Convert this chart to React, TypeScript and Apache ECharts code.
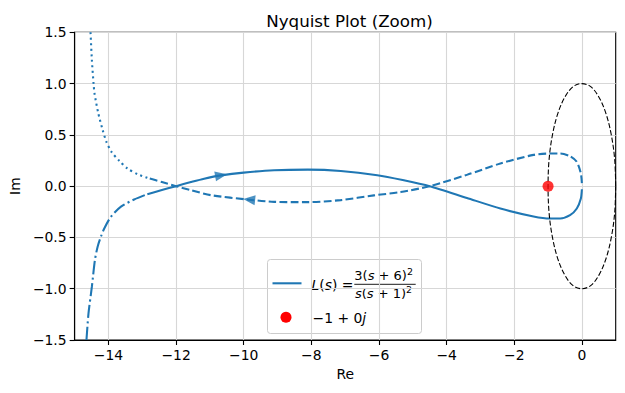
import React, { useEffect, useRef } from 'react';
import * as echarts from 'echarts';

// Tick labels on the real axis
const xTicks = [-14, -12, -10, -8, -6, -4, -2, 0];

// Primary curve, scaled portion (dash-dot)
const primaryScaled: number[][] = [
  [-14.65, -1.5], [-14.59, -1.24], [-14.49, -0.98], [-14.4, -0.72], [-14.32, -0.59],
  [-14.22, -0.49], [-14.12, -0.41], [-13.93, -0.3], [-13.63, -0.2], [-13.24, -0.13],
  [-12.85, -0.078],
];

// Primary curve, positive frequencies (solid)
const primary: number[][] = [
  [-12.85, -0.078], [-12.42, -0.038], [-12.0, 0.0], [-11.56, 0.04], [-11.17, 0.073],
  [-10.67, 0.105], [-10.0, 0.132], [-9.1, 0.155], [-8.1, 0.161], [-7.13, 0.148],
  [-6.05, 0.107], [-5.3, 0.06], [-4.5, 0.0], [-3.4, -0.115], [-2.41, -0.218],
  [-1.43, -0.295], [-0.94, -0.315], [-0.64, -0.315], [-0.35, -0.283], [-0.15, -0.218],
  [-0.03, -0.12], [0.0, -0.03],
];

// Mirror curve, negative frequencies (dashed)
const mirror: number[][] = [
  [0.0, 0.03], [-0.03, 0.124], [-0.15, 0.237], [-0.35, 0.292], [-0.64, 0.318],
  [-0.94, 0.318], [-1.43, 0.305], [-2.41, 0.221], [-3.4, 0.11], [-4.5, 0.0],
  [-5.36, -0.058], [-6.15, -0.09], [-7.13, -0.136], [-8.11, -0.156], [-9.1, -0.153],
  [-9.84, -0.132], [-10.97, -0.088], [-11.56, -0.04], [-12.0, 0.0], [-12.42, 0.04],
  [-12.85, 0.081],
];

// Mirror curve, scaled portion (dotted)
const mirrorScaled: number[][] = [
  [-12.85, 0.081], [-13.14, 0.117], [-13.44, 0.172], [-13.68, 0.247], [-13.91, 0.334],
  [-14.06, 0.432], [-14.17, 0.546], [-14.3, 0.71], [-14.41, 0.9], [-14.44, 1.0],
  [-14.49, 1.23], [-14.53, 1.5],
];

// Unit circle (black dashed)
const unitCircle: number[][] = [
  [1, 0], [0.97, 0.26], [0.87, 0.5], [0.71, 0.71], [0.5, 0.87], [0.26, 0.97],
  [0, 1], [-0.26, 0.97], [-0.5, 0.87], [-0.71, 0.71], [-0.87, 0.5], [-0.97, 0.26],
  [-1, 0], [-0.97, -0.26], [-0.87, -0.5], [-0.71, -0.71], [-0.5, -0.87], [-0.26, -0.97],
  [0, -1], [0.26, -0.97], [0.5, -0.87], [0.71, -0.71], [0.87, -0.5], [0.97, -0.26], [1, 0],
];

// Critical point
const criticalPoint: number[][] = [[-1, 0]];

// Direction arrows on the curves
const arrowPrimary: number[] = [-10.67, 0.105];
const arrowMirror: number[] = [-9.84, -0.132];

const BLUE = '#1f77b4';
const FONT = 'DejaVu Sans';
const minus = (s: string) => s.replace('-', '\u2212');

export default function App() {
  const ref = useRef<HTMLDivElement>(null);

  useEffect(() => {
    if (!ref.current) return;
    const chart = echarts.init(ref.current, undefined, { renderer: 'svg' });

    const lineBase = (data: number[][], type: any, name: string) => ({
      type: 'line',
      name,
      data,
      symbol: 'none',
      showSymbol: false,
      smooth: 0.25,
      lineStyle: { color: BLUE, width: 2.08, type, cap: 'butt' },
      itemStyle: { color: BLUE },
      z: 3,
    });

    const tickText = { color: '#000', fontSize: 13.9, fontFamily: FONT };

    const mathRich = (size: number) => ({
      i: { fontStyle: 'italic', fill: '#000', fontSize: size, fontFamily: FONT, lineHeight: 18 },
      n: { fill: '#000', fontSize: size, fontFamily: FONT, lineHeight: 18 },
      sup: { fill: '#000', fontSize: 9.5, fontFamily: FONT, lineHeight: 18, verticalAlign: 'top' },
    });

    const option: any = {
      animation: false,
      backgroundColor: '#ffffff',
      title: {
        text: 'Nyquist Plot (Zoom)',
        left: 344.5,
        top: 7,
        textAlign: 'center',
        textStyle: { fontSize: 16.7, fontWeight: 'normal', color: '#000', fontFamily: FONT },
      },
      grid: {
        left: 73.3,
        right: 9.3,
        top: 32.3,
        bottom: 53,
        show: true,
        borderColor: '#000',
        borderWidth: 1.1,
        containLabel: false,
      },
      xAxis: {
        type: 'value',
        min: -15,
        max: 1,
        name: 'Re',
        nameLocation: 'middle',
        nameGap: 27,
        nameTextStyle: tickText,
        axisLine: { show: true, onZero: false, lineStyle: { color: '#000', width: 1.1 } },
        axisTick: { show: true, length: 5, customValues: xTicks, lineStyle: { color: '#000', width: 1.1 } },
        axisLabel: {
          customValues: xTicks,
          margin: 8,
          ...tickText,
          formatter: (v: number) => minus(String(v)),
        },
        splitLine: { show: true, lineStyle: { color: '#d7d7d7', width: 1.1 } },
      },
      yAxis: {
        type: 'value',
        min: -1.5,
        max: 1.5,
        interval: 0.5,
        name: 'Im',
        nameLocation: 'middle',
        nameGap: 50,
        nameRotate: 90,
        nameTextStyle: tickText,
        axisLine: { show: true, onZero: false, lineStyle: { color: '#000', width: 1.1 } },
        axisTick: { show: true, length: 5, lineStyle: { color: '#000', width: 1.1 } },
        axisLabel: {
          margin: 8,
          ...tickText,
          formatter: (v: number) => minus(v.toFixed(1)),
        },
        splitLine: { show: true, lineStyle: { color: '#d7d7d7', width: 1.1 } },
      },
      series: [
        lineBase(primaryScaled, [13.3, 3.33, 2.08, 3.33], 'primary scaled'),
        lineBase(primary, 'solid', 'L(s)'),
        lineBase(mirror, [7.7, 3.33], 'mirror'),
        lineBase(mirrorScaled, [2.08, 3.44], 'mirror scaled'),
        {
          type: 'line',
          name: 'unit circle',
          data: unitCircle,
          symbol: 'none',
          smooth: 0.35,
          lineStyle: { color: '#000', width: 1.1, type: [5.1, 2.2] },
          z: 4,
        },
        {
          type: 'scatter',
          name: 'arrows',
          symbol: 'triangle',
          symbolSize: [10, 12],
          itemStyle: { color: BLUE },
          data: [
            { value: arrowPrimary, symbolRotate: -80 },
            { value: arrowMirror, symbolRotate: 84 },
          ],
          z: 5,
        },
        {
          type: 'scatter',
          name: '-1+0j',
          symbol: 'circle',
          symbolSize: 11,
          itemStyle: { color: '#ff0000' },
          data: criticalPoint,
          z: 6,
        },
      ],
      graphic: [
        {
          type: 'group',
          z: 100,
          children: [
            {
              type: 'rect',
              shape: { x: 267.5, y: 259.5, width: 154, height: 74, r: 3 },
              style: { fill: 'rgba(255,255,255,0.8)', stroke: '#cccccc', lineWidth: 1 },
            },
            {
              type: 'line',
              shape: { x1: 272.5, y1: 283.3, x2: 301.5, y2: 283.3 },
              style: { stroke: BLUE, lineWidth: 2.08 },
            },
            {
              type: 'text',
              x: 311.5,
              y: 285,
              style: {
                text: '{i|L}({i|s}) =',
                fill: '#000',
                fontSize: 13.9,
                fontFamily: FONT,
                verticalAlign: 'middle',
                rich: {
                  i: { fontStyle: 'italic', fill: '#000', fontSize: 13.9, fontFamily: FONT },
                },
              },
            },
            {
              type: 'text',
              x: 354.3,
              y: 275.5,
              style: {
                text: '{n|3(}{i|s}{n| + 6)}{sup|2}',
                fill: '#000',
                fontSize: 13,
                fontFamily: FONT,
                verticalAlign: 'middle',
                rich: mathRich(13),
              },
            },
            {
              type: 'line',
              shape: { x1: 354.3, y1: 284.3, x2: 415.7, y2: 284.3 },
              style: { stroke: '#000', lineWidth: 0.9 },
            },
            {
              type: 'text',
              x: 355,
              y: 293,
              style: {
                text: '{i|s}{n|(}{i|s}{n| + 1)}{sup|2}',
                fill: '#000',
                fontSize: 13,
                fontFamily: FONT,
                verticalAlign: 'middle',
                rich: mathRich(13),
              },
            },
            {
              type: 'circle',
              shape: { cx: 286, cy: 317.3, r: 5.5 },
              style: { fill: '#ff0000' },
            },
            {
              type: 'text',
              x: 312.5,
              y: 318,
              style: {
                text: '\u22121 + 0{i|j}',
                fill: '#000',
                fontSize: 13.9,
                fontFamily: FONT,
                verticalAlign: 'middle',
                rich: {
                  i: { fontStyle: 'italic', fill: '#000', fontSize: 13.9, fontFamily: FONT },
                },
              },
            },
          ],
        },
      ],
    };

    chart.setOption(option);
    return () => chart.dispose();
  }, []);

  return (
    <div
      ref={ref}
      style={{ position: 'absolute', left: 0, top: 0, width: 625, height: 393, background: '#fff' }}
    />
  );
}
